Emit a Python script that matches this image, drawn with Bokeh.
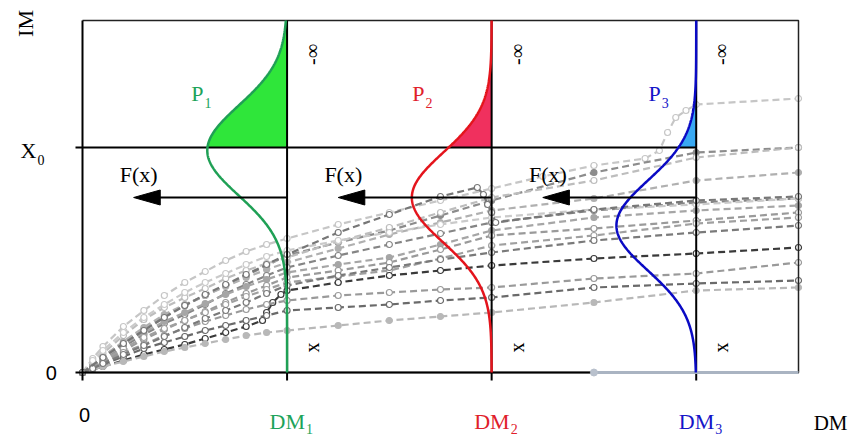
import numpy as np
from bokeh.plotting import figure
from bokeh.models import Label, Range1d
from bokeh.embed import file_html
from bokeh.resources import INLINE

# ---------------- data ----------------
dm_levels = [1.0, 2.0, 3.0]          # DM1, DM2, DM3
dm_subs = ["1", "2", "3"]
im_x0 = 225                          # IM level X0 (arbitrary IM units)
im_top = 352
dm_right = 3.5

p_means = [222, 175, 147]            # centre of each IM distribution
p_sigma = 45
p_amp = 0.39
p_label_dm = [0.591, 1.672, 2.826]

arrow_im = 175
arrow_len = 0.75

dm_steps = [0, 0.05, 0.1, 0.2, 0.3, 0.4, 0.5, 0.6, 0.7, 0.8, 0.9, 1.0,
            1.25, 1.5, 1.75, 2.0, 2.5, 3.0, 3.5]

ida_a_dm = [0, .05, .1, .2, .3, .4, .5, .6, .7, .8, .9, 1.0, 1.25, 1.5, 1.75,
            2.0, 2.25, 2.5, 2.75, 2.82, 2.86, 2.9, 2.95, 3.0, 3.5]
ida_a = [0, 14, 26, 46, 62, 77, 90, 101, 112, 121, 128, 134, 148, 160, 172,
         184, 196, 207, 214, 222, 240, 255, 262, 268, 274]
ida_b = [0, 8, 16, 30, 43, 56, 67, 77, 87, 97, 107, 117, 130, 142, 157, 172, 200, 220, 225]
ida_c = [0, 10, 19, 37, 53, 65, 75, 84, 94, 102, 109, 115, 131, 145, 160, 175, 192, 215, 225]
ida_d = [0, 8, 16, 31, 45, 58, 68, 77, 86, 95, 103, 110, 124, 138, 150, 162, 174, 192, 200]
ida_e = [0, 6, 13, 26, 38, 49, 58, 68, 79, 88, 97, 105, 117, 128, 139, 150, 162, 170, 174]
ida_f = [0, 7, 14, 28, 40, 51, 60, 69, 78, 86, 93, 100, 108, 115, 128, 142, 155, 162, 167]
ida_g = [0, 5, 11, 22, 33, 43, 52, 61, 70, 79, 87, 95, 102, 110, 123, 137, 144, 152, 160]
ida_h = [0, 6, 12, 24, 35, 44, 52, 60, 68, 76, 83, 90, 96, 102, 114, 127, 137, 149, 155]
ida_i_dm = [0, 0.1, 0.2, 0.3, 0.4, 0.5, 0.6, 0.7, 0.8, 0.88, 0.9, 0.93, 0.97, 1.0,
            1.25, 1.5, 1.75, 2.0, 2.5, 3.0, 3.5]
ida_i = [0, 6, 12, 18, 23, 28, 34, 40, 46, 52, 60, 70, 78, 82, 90, 97, 102, 107, 114, 119, 125]
ida_j = [0, 5, 10, 20, 28, 37, 44, 51, 57, 63, 68, 72, 77, 80, 83, 85, 94, 99, 110]
ida_k = [0, 4, 8, 16, 24, 30, 36, 42, 47, 52, 57, 62, 65, 68, 72, 75, 85, 89, 92]
ida_l = [0, 3, 6, 11, 16, 21, 25, 29, 33, 37, 40, 42, 47, 52, 56, 60, 70, 82, 85]
ida_m = [0, 12, 22, 40, 55, 68, 80, 90, 99, 108, 116, 122, 132, 140, 148, 155, 163, 168, 174]
ida_n = [0, 4, 9, 18, 27, 36, 45, 54, 62, 70, 79, 87, 97, 105, 113, 120, 132, 140, 147]
ida_o_dm = [0, 0.1, 0.2, 0.3, 0.4, 0.5, 0.6, 0.7, 0.8, 0.9, 1.0, 1.25, 1.5, 1.75,
            1.93, 1.96, 1.98, 2.0, 2.02, 2.5, 3.0, 3.5]
ida_o = [0, 15, 29, 42, 55, 67, 78, 88, 98, 108, 118, 140, 158, 176,
         185, 178, 168, 160, 150, 163, 172, 176]
ida_flat_dm = [2.5, 3.5]
ida_flat = [0, 0]

curves = [
    (ida_a_dm, ida_a, "#c6c6c6", "white"),
    (dm_steps, ida_b, "#8c8c8c", "#8c8c8c"),
    (dm_steps, ida_c, "#bdbdbd", "white"),
    (dm_steps, ida_d, "#b0b0b0", "#b0b0b0"),
    (dm_steps, ida_e, "#858585", "white"),
    (dm_steps, ida_f, "#a6a6a6", "#a6a6a6"),
    (dm_steps, ida_g, "#9a9a9a", "white"),
    (dm_steps, ida_h, "#a0a0a0", "white"),
    (ida_i_dm, ida_i, "#3a3a3a", "white"),
    (dm_steps, ida_j, "#9a9a9a", "white"),
    (dm_steps, ida_k, "#6a6a6a", "white"),
    (dm_steps, ida_l, "#b8b8b8", "#b8b8b8"),
    (dm_steps, ida_m, "#cacaca", "white"),
    (dm_steps, ida_n, "#7a7a7a", "white"),
    (ida_o_dm, ida_o, "#777777", "white"),
]

line_cols = ["#1fa055", "#e4141c", "#0a0ac4"]
fill_cols = ["#2fe63a", "#f0305e", "#39a9f3"]
text_cols = ["#1da35a", "#e0202a", "#1515c8"]

SERIF = "Liberation Serif"
SANS = "Liberation Sans"

# ---------------- figure (whole canvas is the plotting area) ----------------
W, H = 853, 436
FL, FR, FT, FB = 82, 798, 20, 372          # frame edges in pixels
kx = (FR - FL) / dm_right
ky = (FB - FT) / im_top
x_range = Range1d(-FL / kx, (W - FL) / kx)
y_range = Range1d(-(H - FB) / ky, FB / ky)

p = figure(width=W, height=H, x_range=x_range, y_range=y_range,
           output_backend="svg", toolbar_location=None,
           x_axis_location=None, y_axis_location=None,
           min_border=0, min_border_left=0, min_border_right=0,
           min_border_top=0, min_border_bottom=0)
p.grid.visible = False
p.outline_line_color = None
p.background_fill_color = "white"
p.border_fill_color = "white"

# IDA curves
for xs, ys, col, fc in curves:
    p.line(xs, ys, line_color=col, line_width=2.2, line_dash="7 4")
    p.scatter(xs, ys, marker="circle", size=6, fill_color=fc, line_color=col, line_width=1.2)

# distributions
im_grid = np.linspace(0, im_top, 500)
curves_x = []
for dm, mu in zip(dm_levels, p_means):
    curves_x.append(dm - p_amp * np.exp(-(im_grid - mu) ** 2 / (2 * p_sigma ** 2)))

mask = im_grid >= im_x0
for cx, dm, fc in zip(curves_x, dm_levels, fill_cols):
    p.harea(x1=cx[mask], x2=np.full(mask.sum(), dm), y=im_grid[mask], fill_color=fc)

# frame
tick_dm = 7 / kx
tick_im = 8 / ky
p.line([0, dm_right, dm_right, 0], [0, 0, im_top, im_top], line_color="#222222", line_width=1.5)
p.segment(x0=[-tick_dm, 0], y0=[0, 0], x1=[dm_right, 0], y1=[0, im_top],
          line_color="black", line_width=2)
# ticks
p.segment(x0=dm_levels + [0], y0=[0] * 4, x1=dm_levels + [0], y1=[-tick_im] * 4,
          line_color="black", line_width=2)

# black guide lines
p.segment(x0=dm_levels, y0=[0] * 3, x1=dm_levels, y1=[im_top] * 3, line_color="black", line_width=2)
p.segment(x0=[-tick_dm], y0=[im_x0], x1=[dm_levels[-1]], y1=[im_x0], line_color="black", line_width=2)

# flat curve on the base line
p.line(ida_flat_dm, ida_flat, line_color="#aab4c2", line_width=3)
p.scatter(ida_flat_dm[:1], ida_flat[:1], marker="circle", size=7, fill_color="#b8c0cc",
          line_color="#b8c0cc")

for cx, lc in zip(curves_x, line_cols):
    p.line(cx, im_grid, line_color=lc, line_width=2.5)

# arrows
tips = [d - arrow_len for d in dm_levels]
p.segment(x0=dm_levels, y0=[arrow_im] * 3, x1=[t + 0.05 for t in tips], y1=[arrow_im] * 3,
          line_color="black", line_width=2)
head_l, head_w = 0.13, 7.5
p.patches(xs=[[t, t + head_l, t + head_l] for t in tips],
          ys=[[arrow_im, arrow_im + head_w, arrow_im - head_w] for _ in tips],
          fill_color="black", line_color="black")


def lab(x, y, text, size=22, font=SERIF, color="black", align="center", angle=0.0, baseline="middle"):
    p.add_layout(Label(x=x, y=y, text=text, text_font=font, text_font_size=f"{size}px",
                       text_color=color, text_align=align, text_baseline=baseline, angle=angle))


lab(-0.279, 349, "IM", angle=np.pi / 2)
lab(-0.225, 222, "X", align="right")
lab(-0.22, 213, "0", size=14, align="left")
lab(-0.152, 0, "0", size=20, font=SANS)
lab(0.01, -42, "0", size=20, font=SANS)
lab(3.657, -50, "DM", size=21)

for dm, sub, tc, plx in zip(dm_levels, dm_subs, text_cols, p_label_dm):
    lab(dm + 0.088, -49, "DM", color=tc, align="right")
    lab(dm + 0.093, -56, sub, size=14, color=tc, align="left")
    lab(plx, 279, "P", color=tc, align="right")
    lab(plx + 0.005, 270, sub, size=14, color=tc, align="left")
    lab(dm + 0.122, 318, "-∞", size=20, angle=np.pi / 2)
    lab(dm + 0.122, 25, "x", size=20, angle=np.pi / 2)

for t in tips:
    lab(t + 0.025, 198, "F(x)")

open("out.html", "w").write(file_html(p, INLINE))
